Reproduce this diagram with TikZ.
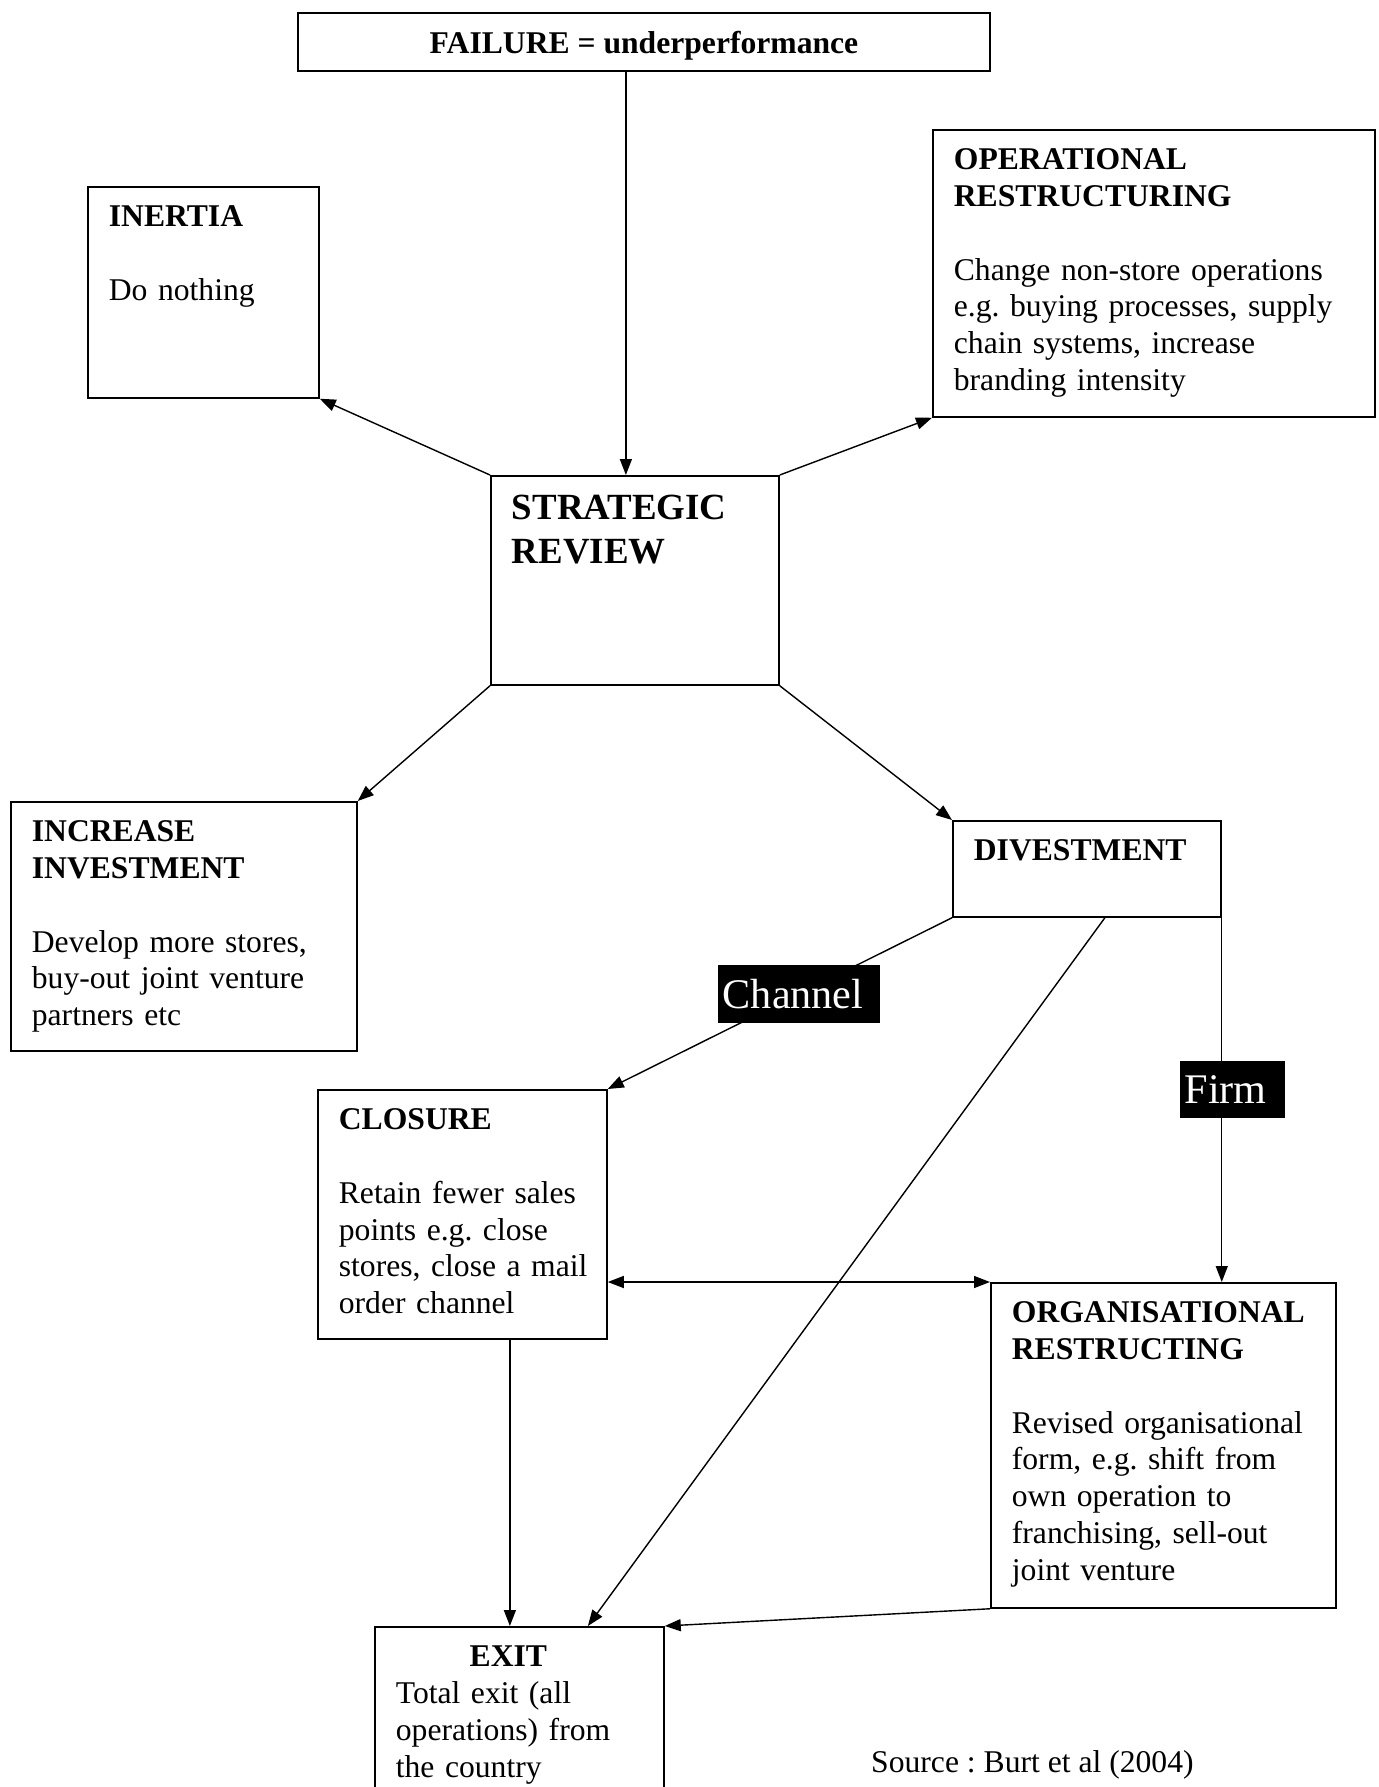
\documentclass[tikz,border=0pt]{standalone}
\usepackage{fontspec}
\setmainfont{Liberation Serif}
\usetikzlibrary{arrows.meta}

\begin{document}
\frenchspacing
\begin{tikzpicture}[>={Triangle[length=3.2mm,width=2.4mm]},
    font=\fontsize{18pt}{20.9pt}\selectfont,
    box/.style 2 args={draw, line width=1pt, anchor=north west, align=left,
              inner xsep=4.2mm, inner ysep=0pt, text width=#1-8.4mm,
              text height=8mm, text depth=#2-8mm},
    arr/.style={->, line width=0.8pt},
    tag/.style={fill=black, text=white, font=\fontsize{24pt}{28pt}\selectfont,
              align=left, inner xsep=1mm, text width=#1-2mm, minimum height=1.15cm}]
  \useasboundingbox (0,0) rectangle (27.58,-35.74);
  \clip (0,0) rectangle (27.58,-35.74);

  \node[draw, line width=1pt, minimum width=13.84cm, minimum height=1.16cm, text depth=0pt]
    (fail) at (12.88,-0.84) {\textbf{FAILURE = underperformance}};
  \node[box={4.62cm}{4.22cm}] (inertia) at (1.74,-3.72)
    {\textbf{INERTIA}\\[7.35mm]Do nothing};
  \node[box={8.84cm}{5.74cm}] (oper) at (18.64,-2.58)
    {\textbf{OPERATIONAL}\\\textbf{RESTRUCTURING}\\[7.35mm]Change non-store operations\\
     e.g. buying processes, supply\\chain systems, increase\\branding intensity};
  \node[box={5.76cm}{4.18cm}, text height=8.8mm, text depth=3.3cm,
        font=\fontsize{21pt}{25pt}\selectfont\bfseries] (strat) at (9.8,-9.5)
    {STRATEGIC\\REVIEW};
  \node[box={6.92cm}{4.98cm}] (incr) at (0.2,-16.02)
    {\textbf{INCREASE}\\\textbf{INVESTMENT}\\[7.35mm]Develop more stores,\\
     buy-out joint venture\\partners etc};
  \node[box={5.36cm}{1.92cm}] (div) at (19.04,-16.4) {\textbf{DIVESTMENT}};
  \node[box={5.78cm}{4.98cm}] (clos) at (6.34,-21.78)
    {\textbf{CLOSURE}\\[7.35mm]Retain fewer sales\\points e.g. close\\
     \mbox{stores, close a mail}\\order channel};
  \node[box={6.9cm}{6.5cm}] (org) at (19.8,-25.64)
    {\textbf{ORGANISATIONAL}\\\textbf{RESTRUCTING}\\[7.35mm]Revised organisational\\
     form, e.g. shift from\\own operation to\\franchising, sell-out\\joint venture};
  \node[box={5.78cm}{4cm}] (exit) at (7.48,-32.52)
    {\makebox[4.5cm]{\textbf{EXIT}}\\Total exit (all\\operations) from\\the country};
  \node[anchor=base west] (src) at (17.3,-35.44) {Source : Burt et al (2004)};

  \draw[arr] ([xshift=-1.8mm]strat.north |- fail.south) -- ([xshift=-1.8mm]strat.north);
  \draw[arr] (strat.north west) -- (inertia.south east);
  \draw[arr] (strat.north east) -- (oper.south west);
  \draw[arr] (strat.south west) -- (incr.north east);
  \draw[arr] (strat.south east) -- (div.north west);
  \draw[arr] (div.south west) -- node[tag=3.24cm, pos=0.445] (chan) {Channel} (clos.north east);
  \draw[arr] (div.south east) -- node[tag=2.1cm, pos=0.471, xshift=2.1mm] (firm) {Firm}
    (div.south east |- org.north);
  \draw[arr] ([xshift=3.6mm]div.south) -- ([xshift=13.7mm]exit.north);
  \draw[arr, <->] (clos.east |- org.north west) -- (org.north west);
  \draw[arr] ([xshift=9.5mm]clos.south) -- ([xshift=9.5mm]clos.south |- exit.north);
  \draw[arr] (org.south west) -- (exit.north east);
\end{tikzpicture}
\end{document}
